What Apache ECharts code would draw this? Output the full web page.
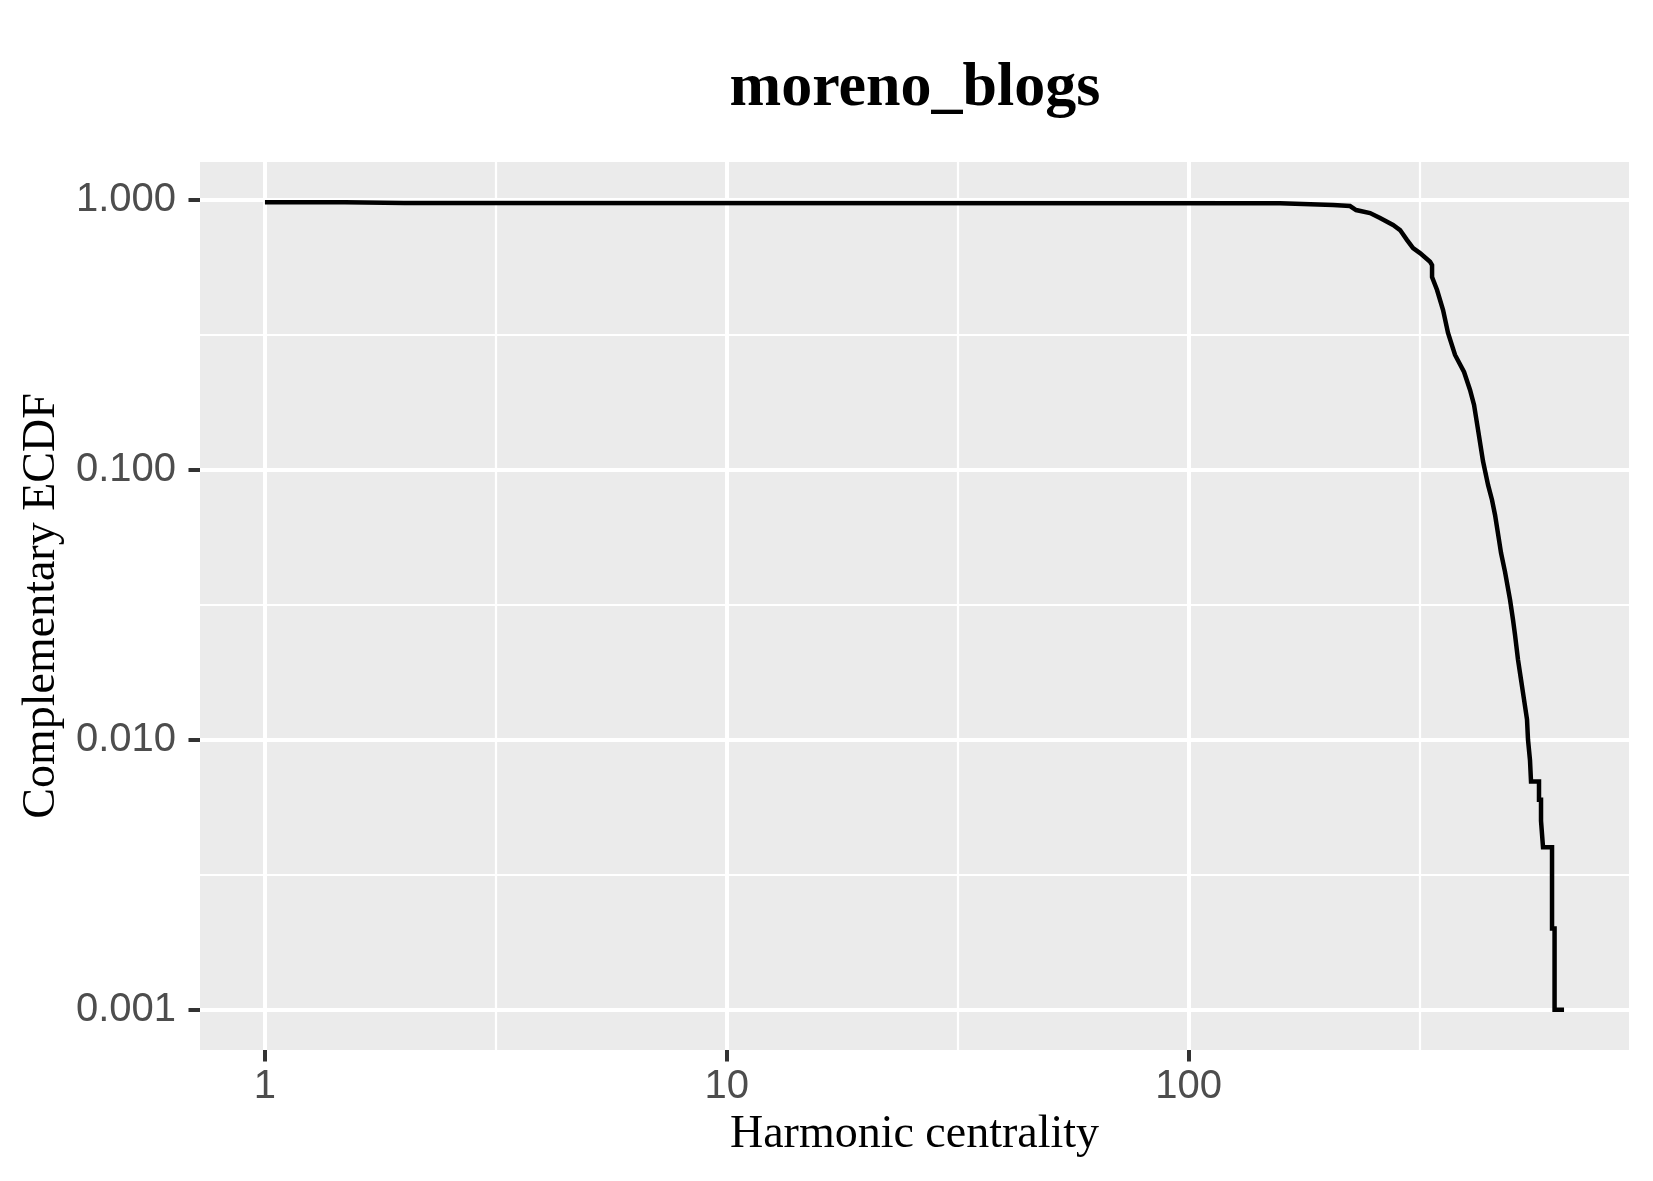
<!DOCTYPE html>
<html>
<head>
<meta charset="utf-8">
<title>moreno_blogs</title>
<script src="https://cdn.jsdelivr.net/npm/echarts@6/dist/echarts.min.js"></script>
<style>
  html, body { margin: 0; padding: 0; background: #fff; }
  #main { width: 1653px; height: 1181px; }
</style>
</head>
<body>
<div id="main"></div>
<script>
// harmonic centrality (x) and complementary ECDF (y)
const harmonic = [1, 1.49, 1.49, 2.0, 2.0, 157.8, 157.8, 205.5, 223.6, 230.5, 247.1, 259.7, 277.1, 287.0,
  297.2, 306.2, 317.0, 333.3, 336.6, 336.6, 345.1, 355.6, 364.5, 377.5, 394.8, 406.8, 415.0, 423.4,
  434.0, 445.0, 453.9, 460.8, 470.0, 474.7, 484.3, 496.6, 504.0, 509.0, 516.7, 524.5, 532.4, 540.4,
  543.1, 548.5, 551.3, 573.7, 573.7, 579.5, 579.5, 585.3, 585.3, 612.2, 612.2, 620.0, 620.0, 650.0]
const ccdf = [0.9806, 0.9806, 0.9747, 0.9747, 0.9723, 0.9723, 0.9623, 0.9583, 0.9501, 0.9183, 0.8951,
  0.8577, 0.8081, 0.7743, 0.7109, 0.6641, 0.6362, 0.5906, 0.5743, 0.5185, 0.4642, 0.3914, 0.3217,
  0.2667, 0.2306, 0.1978, 0.1740, 0.1406, 0.1077, 0.0880, 0.0774, 0.0681, 0.0550, 0.0493, 0.0419,
  0.0330, 0.0278, 0.0245, 0.0198, 0.0167, 0.0141, 0.0119, 0.0100, 0.0084, 0.0070, 0.0070, 0.0060,
  0.0060, 0.0050, 0.0050, 0.0040, 0.0040, 0.0020, 0.0020, 0.0010, 0.0010]

const xBreaks = [1, 10, 100]
const xMinorBreaks = [3.1623, 31.623, 316.23]
const yBreaks = [0.001, 0.01, 0.1, 1]
const yMinorBreaks = [0.0031623, 0.031623, 0.31623]

// ggplot style 5% expansion on log scale
function logLimits (arr) {
  const lo = Math.log10(Math.min(...arr))
  const hi = Math.log10(Math.max(...arr))
  const pad = (hi - lo) * 0.05
  return [Math.pow(10, lo - pad), Math.pow(10, hi + pad)]
}
const xLim = logLimits(harmonic)
const yLim = logLimits(ccdf)

const tickColor = '#333333'
const labelColor = '#4D4D4D'

const myChart = echarts.init(document.getElementById('main'), null, { renderer: 'canvas' })
myChart.setOption({
  animation: false,
  backgroundColor: '#ffffff',
  title: {
    text: 'moreno_blogs',
    left: 915,
    top: 58,
    padding: 0,
    textAlign: 'center',
    textStyle: {
      fontFamily: 'Liberation Serif',
      fontWeight: 'bold',
      fontSize: 62,
      color: '#000000'
    }
  },
  grid: {
    left: 200,
    top: 162,
    width: 1429,
    height: 888,
    show: true,
    backgroundColor: '#EBEBEB',
    borderWidth: 0
  },
  xAxis: [{
    type: 'log',
    min: xLim[0],
    max: xLim[1],
    position: 'bottom',
    name: 'Harmonic centrality',
    nameLocation: 'middle',
    nameGap: 62,
    nameTextStyle: { fontFamily: 'Liberation Serif', fontSize: 46, color: '#000000' },
    axisLine: { show: false },
    axisTick: {
      show: true,
      customValues: xBreaks,
      length: 11.5,
      lineStyle: { color: tickColor, width: 4 }
    },
    axisLabel: {
      customValues: xBreaks,
      margin: 17,
      fontFamily: 'Liberation Sans',
      fontSize: 40,
      color: labelColor,
      formatter: (v) => String(Math.round(v))
    },
    splitLine: { show: true, lineStyle: { color: '#ffffff', width: 4 } }
  }, {
    // minor grid lines only
    type: 'log',
    min: xLim[0],
    max: xLim[1],
    position: 'top',
    axisLine: { show: false },
    axisTick: { show: false, customValues: xMinorBreaks },
    axisLabel: { show: false, customValues: xMinorBreaks },
    splitLine: { show: true, lineStyle: { color: '#ffffff', width: 2.2 } }
  }],
  yAxis: [{
    type: 'log',
    min: yLim[0],
    max: yLim[1],
    position: 'left',
    name: 'Complementary ECDF',
    nameLocation: 'middle',
    nameGap: 134,
    nameRotate: 90,
    nameTextStyle: { fontFamily: 'Liberation Serif', fontSize: 46, color: '#000000' },
    axisLine: { show: false },
    axisTick: {
      show: true,
      customValues: yBreaks,
      length: 11.5,
      lineStyle: { color: tickColor, width: 4 }
    },
    axisLabel: {
      customValues: yBreaks,
      margin: 24,
      fontFamily: 'Liberation Sans',
      fontSize: 40,
      color: labelColor,
      formatter: (v) => v.toFixed(3)
    },
    splitLine: { show: true, lineStyle: { color: '#ffffff', width: 4 } }
  }, {
    type: 'log',
    min: yLim[0],
    max: yLim[1],
    position: 'right',
    axisLine: { show: false },
    axisTick: { show: false, customValues: yMinorBreaks },
    axisLabel: { show: false, customValues: yMinorBreaks },
    splitLine: { show: true, lineStyle: { color: '#ffffff', width: 2.2 } }
  }],
  series: [{
    type: 'line',
    xAxisIndex: 0,
    yAxisIndex: 0,
    showSymbol: false,
    symbol: 'none',
    lineStyle: { color: '#000000', width: 4.5, cap: 'butt', join: 'miter' },
    data: harmonic.map((x, i) => [x, ccdf[i]])
  }]
})
</script>
</body>
</html>
